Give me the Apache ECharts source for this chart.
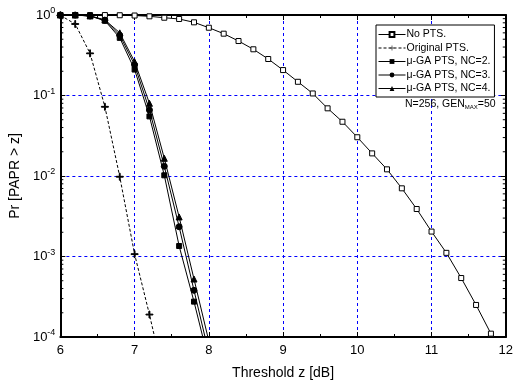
<!DOCTYPE html>
<html>
<head>
<meta charset="utf-8">
<script src="https://cdn.jsdelivr.net/npm/echarts@6/dist/echarts.min.js"></script>
<style>
  html, body { margin: 0; padding: 0; background: #fff; }
  #chart { width: 516px; height: 386px; }
</style>
</head>
<body>
<div id="chart"></div>
<script>
// values
const noPtsX = [6.0, 6.2, 6.4, 6.6, 6.8, 7.0, 7.2, 7.4, 7.6, 7.8, 8.0, 8.2, 8.4, 8.6, 8.8, 9.0, 9.2, 9.4, 9.6, 9.8, 10.0, 10.2, 10.4, 10.6, 10.8, 11.0, 11.2, 11.4, 11.6, 11.8];
const noPts = [1.0, 1.0, 0.999, 0.998, 0.993, 0.985, 0.963, 0.925, 0.892, 0.811, 0.695, 0.586, 0.475, 0.375, 0.284, 0.207, 0.148, 0.106, 0.0693, 0.0472, 0.0303, 0.0191, 0.0121, 0.00703, 0.00389, 0.00204, 0.00111, 0.00054, 0.00025, 0.00011];

const origX = [6.0, 6.2, 6.4, 6.6, 6.8, 7.0, 7.2, 7.4];
const origPts = [0.99, 0.773, 0.334, 0.0724, 0.0098, 0.00107, 0.00019, 0.00003];

const gaX = [6.0, 6.2, 6.4, 6.6, 6.8, 7.0, 7.2, 7.4, 7.6, 7.8, 8.0];
const gaNc2 = [1.0, 0.999, 0.97, 0.85, 0.52, 0.21, 0.055, 0.0102, 0.00135, 0.000275, 0.00005];
const gaNc3 = [1.0, 0.999, 0.972, 0.86, 0.56, 0.24, 0.066, 0.0132, 0.00234, 0.00038, 0.000063];
const gaNc4 = [1.0, 0.999, 0.975, 0.87, 0.6, 0.263, 0.08, 0.0166, 0.0031, 0.000525, 0.000089];

const xTicks = [6, 7, 8, 9, 10, 11, 12];
const decades = [-4, -3, -2, -1];
const seriesNames = ['No PTS.', 'Original PTS.', '\u03bc-GA PTS, NC=2.', '\u03bc-GA PTS, NC=3.', '\u03bc-GA PTS, NC=4.'];

const FONT = 'Liberation Sans, Arial, sans-serif';
const pair = (xs, ys) => xs.map((x, i) => [x, ys[i]]);
const plusPath = 'path://M4.4,0H5.6V4.4H10V5.6H5.6V10H4.4V5.6H0V4.4H4.4Z';

// minor log ticks (2..9 of each decade)
const minorY = [];
decades.forEach(d => {
    for (let k = 2; k <= 9; k++) minorY.push([k * Math.pow(10, d)]);
});

const chart = echarts.init(document.getElementById('chart'), null, { renderer: 'canvas' });

const lineBase = {
    type: 'line',
    showAllSymbol: true,
    symbolSize: 5,
    lineStyle: { color: '#000', width: 1 },
    itemStyle: { color: '#000', borderColor: '#000' },
    emphasis: { disabled: true },
    animation: false,
    z: 5
};

const blueDash = { show: true, lineStyle: { color: '#0000ff', width: 1, type: [3, 3] } };

chart.setOption({
    animation: false,
    textStyle: { fontFamily: FONT },
    grid: { left: 58, right: 8, top: 15, bottom: 49 },
    legend: {
        orient: 'vertical',
        left: 376,
        top: 25,
        data: seriesNames,
        backgroundColor: '#fff',
        borderColor: '#000',
        borderWidth: 1,
        padding: [4, 4, 3, 2],
        itemGap: 2.5,
        itemWidth: 27,
        itemHeight: 6,
        lineStyle: { width: 1 },
        textStyle: { fontSize: 10.5, color: '#000', fontFamily: FONT, padding: [0, 0, 0, -4] },
        selectedMode: false
    },
    graphic: [{
        type: 'text',
        left: 405,
        top: 99,
        style: {
            text: 'N=256, GEN{s|MAX}=50',
            font: '10.5px ' + FONT,
            fill: '#000',
            rich: { s: { fontSize: 6, padding: [6, 0, 0, 0], fontFamily: FONT } }
        },
        z: 20
    }],
    xAxis: [{
        type: 'value',
        min: 6,
        max: 12,
        interval: 1,
        name: 'Threshold z [dB]',
        nameLocation: 'middle',
        nameGap: 29,
        nameTextStyle: { fontSize: 14, color: '#000', fontFamily: FONT },
        axisLine: { lineStyle: { color: '#000', width: 2 } },
        axisTick: { inside: true, length: 5, lineStyle: { color: '#000', width: 1 } },
        minorTick: { show: true, splitNumber: 2, length: 3, lineStyle: { color: '#000', width: 1 } },
        axisLabel: { fontSize: 13, color: '#000', margin: 7, fontFamily: FONT, formatter: v => xTicks.includes(v) ? String(v) : '' },
        splitLine: blueDash
    }, {
        type: 'value',
        position: 'top',
        min: 6,
        max: 12,
        interval: 1,
        axisLine: { lineStyle: { color: '#000', width: 2 } },
        axisTick: { inside: true, length: 5, lineStyle: { color: '#000', width: 1 } },
        minorTick: { show: true, splitNumber: 2, length: 3, lineStyle: { color: '#000', width: 1 } },
        axisLabel: { show: false },
        splitLine: { show: false }
    }],
    yAxis: [{
        type: 'log',
        logBase: 10,
        min: 1e-4,
        max: 1,
        interval: 1,
        name: 'Pr [PAPR > z]',
        nameLocation: 'middle',
        nameGap: 36,
        nameTextStyle: { fontSize: 14, color: '#000', fontFamily: FONT },
        axisLine: { lineStyle: { color: '#000', width: 2 } },
        axisTick: { inside: true, length: 5, lineStyle: { color: '#000', width: 1 } },
        axisLabel: {
            margin: 5,
            formatter: v => '{b|10}{s|' + Math.round(Math.log10(v)) + '}',
            rich: {
                b: { fontSize: 13, color: '#000', fontFamily: FONT },
                s: { fontSize: 9, color: '#000', fontFamily: FONT, padding: [0, 0, 8, 0] }
            }
        },
        splitLine: blueDash
    }, {
        type: 'log',
        logBase: 10,
        position: 'right',
        min: 1e-4,
        max: 1,
        interval: 1,
        axisLine: { lineStyle: { color: '#000', width: 2 } },
        axisTick: { inside: true, length: 5, lineStyle: { color: '#000', width: 1 } },
        axisLabel: { show: false },
        splitLine: { show: false }
    }],
    series: [
        Object.assign({}, lineBase, {
            name: seriesNames[0],
            data: pair(noPtsX, noPts),
            symbol: 'rect',
            symbolSize: 5,
            itemStyle: { color: '#fff', borderColor: '#000', borderWidth: 1 }
        }),
        Object.assign({}, lineBase, {
            name: seriesNames[1],
            data: pair(origX, origPts),
            symbol: plusPath,
            symbolSize: 7,
            lineStyle: { color: '#000', width: 1, type: [3, 2] }
        }),
        Object.assign({}, lineBase, {
            name: seriesNames[2],
            data: pair(gaX, gaNc2),
            symbol: 'rect',
            symbolSize: 5
        }),
        Object.assign({}, lineBase, {
            name: seriesNames[3],
            data: pair(gaX, gaNc3),
            symbol: 'circle',
            symbolSize: 6
        }),
        Object.assign({}, lineBase, {
            name: seriesNames[4],
            data: pair(gaX, gaNc4),
            symbol: 'triangle',
            symbolSize: 6
        }),
        {
            // minor ticks at true log positions on left and right frame
            type: 'custom',
            silent: true,
            animation: false,
            data: minorY,
            encode: { y: 0 },
            renderItem: (params, api) => {
                const v = api.value(0);
                const l = api.coord([6, v]);
                const r = api.coord([12, v]);
                const st = { stroke: '#000', lineWidth: 1 };
                return {
                    type: 'group',
                    children: [
                        { type: 'line', shape: { x1: l[0], y1: l[1], x2: l[0] + 3, y2: l[1] }, style: st },
                        { type: 'line', shape: { x1: r[0], y1: r[1], x2: r[0] - 3, y2: r[1] }, style: st }
                    ]
                };
            },
            z: 6
        }
    ]
});

window.addEventListener('resize', () => chart.resize());
</script>
</body>
</html>
